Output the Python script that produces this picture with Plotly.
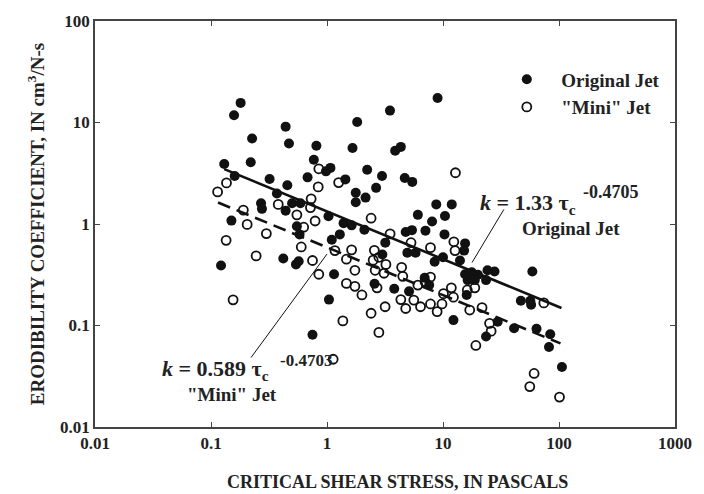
import numpy as np
import plotly.graph_objects as go

# Critical shear stress (Pa) and erodibility coefficient (cm^3/N-s)
orig_tau = [0.18, 0.158, 0.226, 0.44, 0.47, 0.81, 0.13, 0.22, 0.77, 1.07,
            0.98, 0.16, 0.32, 0.455, 0.68, 0.37, 0.27, 0.275, 0.50, 0.59,
            0.44, 1.03, 0.15, 0.55, 0.58, 1.1, 1.82, 3.49, 3.87, 1.66,
            4.33, 8.98, 2.22, 2.98, 4.68, 5.43, 1.44, 2.65, 1.77, 2.15,
            1.77, 8.75, 11.9, 6.07, 10.4, 8.05, 1.39, 1.63, 2.1, 7.06,
            10.3, 4.77, 5.4, 3.18, 1.29, 15.5, 4.93, 5.8, 3.0, 8.47,
            10.0, 15.2, 14.0, 15.5, 17.7, 20.0, 24.2, 27.8, 16.3, 18.8,
            23.5, 6.95, 7.6, 3.8, 5.1, 16.0, 58.9, 46.9, 56.6, 57.5,
            12.3, 29.6, 23.5, 41.0, 64.0, 84.0, 82.0, 106.0, 0.122, 0.42,
            0.54, 0.57, 1.15, 1.04, 0.75, 2.57]
orig_k = [15.6, 11.8, 6.95, 9.1, 6.2, 5.9, 3.9, 4.06, 4.3, 3.57,
          3.3, 2.97, 2.78, 2.41, 2.88, 2.0, 1.6, 1.41, 1.6, 1.6,
          1.35, 1.19, 1.08, 0.95, 0.79, 0.70, 10.1, 13.1, 5.26, 5.6,
          5.75, 17.4, 3.42, 2.97, 2.84, 2.6, 2.75, 2.27, 2.03, 1.82,
          1.64, 1.56, 1.56, 1.23, 1.2, 1.06, 1.02, 0.97, 0.88, 0.86,
          0.79, 0.835, 0.87, 0.655, 0.79, 0.644, 0.52, 0.52, 0.50, 0.425,
          0.47, 0.547, 0.437, 0.32, 0.334, 0.316, 0.35, 0.34, 0.28, 0.28,
          0.28, 0.295, 0.25, 0.23, 0.217, 0.20, 0.34, 0.175, 0.175, 0.16,
          0.113, 0.109, 0.078, 0.094, 0.093, 0.082, 0.0615, 0.039, 0.39, 0.457,
          0.40, 0.43, 0.32, 0.18, 0.081, 0.258]

mini_tau = [0.136, 0.114, 0.85, 0.84, 1.26, 0.38, 0.73, 0.72, 0.19, 0.205,
            0.30, 0.55, 0.79, 0.63, 0.135, 2.40, 3.5, 12.8, 5.3, 12.4,
            7.8, 1.63, 2.56, 2.5, 2.8, 12.7, 3.22, 4.4, 3.1, 2.6,
            1.47, 1.74, 2.0, 1.37, 2.40, 3.17, 2.8, 1.47, 1.74, 2.7,
            4.33, 4.77, 5.6, 6.4, 7.8, 8.9, 9.8, 10.1, 11.8, 12.3,
            6.07, 7.8, 1.13, 16.2, 18.8, 17.0, 21.7, 25.2, 26.0, 19.2,
            74.0, 61.0, 56.0, 101.0, 0.245, 0.155, 0.75, 0.85, 0.60, 1.17,
            4.5, 7.0]
mini_k = [2.54, 2.07, 3.5, 2.32, 2.56, 1.56, 1.77, 1.45, 1.37, 0.99,
          0.805, 1.23, 1.07, 0.93, 0.69, 1.14, 0.80, 3.2, 0.654, 0.668,
          0.585, 0.556, 0.55, 0.44, 0.47, 0.547, 0.40, 0.374, 0.327, 0.35,
          0.26, 0.243, 0.20, 0.111, 0.132, 0.153, 0.0855, 0.45, 0.35, 0.235,
          0.18, 0.147, 0.178, 0.153, 0.163, 0.137, 0.163, 0.206, 0.235, 0.19,
          0.25, 0.30, 0.0465, 0.224, 0.235, 0.142, 0.15, 0.105, 0.088, 0.0636,
          0.167, 0.0337, 0.025, 0.0197, 0.485, 0.179, 0.437, 0.32, 0.594, 0.547,
          0.305, 0.27]

# Power-law fits k = a * tau^b
orig_fit = dict(a=1.33, b=-0.4705, tau_min=0.13, tau_max=105)
mini_fit = dict(a=0.589, b=-0.4703, tau_min=0.115, tau_max=103)

x_ticks = [0.01, 0.1, 1, 10, 100, 1000]
x_ticktext = ["0.01", "0.1", "1", "10", "100", "1000"]
y_ticks = [0.01, 0.1, 1, 10, 100]
y_ticktext = ["0.01", "0.1", "1", "10", "100"]

SERIF = "Liberation Serif"
INK = "#111111"
TEXT = "#222222"


def fit_curve(p):
    t = np.logspace(np.log10(p["tau_min"]), np.log10(p["tau_max"]), 20)
    return t, p["a"] * t ** p["b"]


def bold_serif(size):
    return dict(family=SERIF, size=size, color=TEXT, weight="bold")


fig = go.Figure()

tx, ty = fit_curve(orig_fit)
fig.add_trace(go.Scatter(x=tx, y=ty, mode="lines", showlegend=False,
                         line=dict(color=INK, width=2.6)))
tx, ty = fit_curve(mini_fit)
fig.add_trace(go.Scatter(x=tx, y=ty, mode="lines", showlegend=False,
                         line=dict(color=INK, width=2.6, dash="13px,7px")))

fig.add_trace(go.Scatter(x=orig_tau, y=orig_k, mode="markers", name="Original Jet",
                         marker=dict(symbol="circle", size=10, color=INK,
                                     line=dict(width=0))))
fig.add_trace(go.Scatter(x=mini_tau, y=mini_k, mode="markers", name='"Mini" Jet',
                         marker=dict(symbol="circle-open", size=9, color=INK,
                                     line=dict(width=1.8))))

axis_common = dict(
    type="log", showgrid=False, zeroline=False, showline=True, mirror="ticks",
    linecolor="#444444", linewidth=1.6, ticks="inside", ticklen=5,
    tickwidth=1.4, tickcolor="#444444",
    tickfont=bold_serif(17),
)

fig.update_xaxes(range=[-2, 3], tickvals=x_ticks, ticktext=x_ticktext, **axis_common)
fig.update_yaxes(range=[-2, 2], tickvals=y_ticks, ticktext=y_ticktext,
                 title=dict(text="ERODIBILITY COEFFICIENT, IN cm<sup>3</sup>/N-s",
                            standoff=10, font=bold_serif(19)),
                 **axis_common)

annotations = [
    dict(text="CRITICAL SHEAR STRESS, IN PASCALS", x=0.522, y=-0.136,
         xanchor="center", font=bold_serif(18)),
    dict(text="<i>k</i> = 1.33 τ<sub>c</sub>", x=0.660, y=0.549, font=bold_serif(22)),
    dict(text="-0.4705", x=0.838, y=0.578, font=bold_serif(18)),
    dict(text="Original Jet", x=0.733, y=0.488, font=bold_serif(19)),
    dict(text="<i>k</i> = 0.589 τ<sub>c</sub>", x=0.112, y=0.140, font=bold_serif(22)),
    dict(text="-0.4703", x=0.316, y=0.165, font=bold_serif(17)),
    dict(text='"Mini" Jet', x=0.155, y=0.080, font=bold_serif(19)),
]
for a in annotations:
    a.setdefault("xanchor", "left")
    a.update(xref="paper", yref="paper", yanchor="middle", showarrow=False)

shapes = [
    dict(type="line", xref="paper", yref="paper", x0=0.650, y0=0.405,
         x1=0.705, y1=0.536, line=dict(color=INK, width=1)),
    dict(type="line", xref="paper", yref="paper", x0=0.269, y0=0.171,
         x1=0.400, y1=0.426, line=dict(color=INK, width=1)),
]

fig.update_layout(
    width=704, height=494,
    margin=dict(l=95, r=21, t=15, b=67),
    paper_bgcolor="white", plot_bgcolor="white",
    annotations=annotations, shapes=shapes,
    legend=dict(x=0.685, y=0.903, xanchor="left", yanchor="top",
                bgcolor="rgba(255,255,255,0)", itemwidth=59,
                font=bold_serif(19), tracegroupgap=0),
)

fig.write_html("out.html")
